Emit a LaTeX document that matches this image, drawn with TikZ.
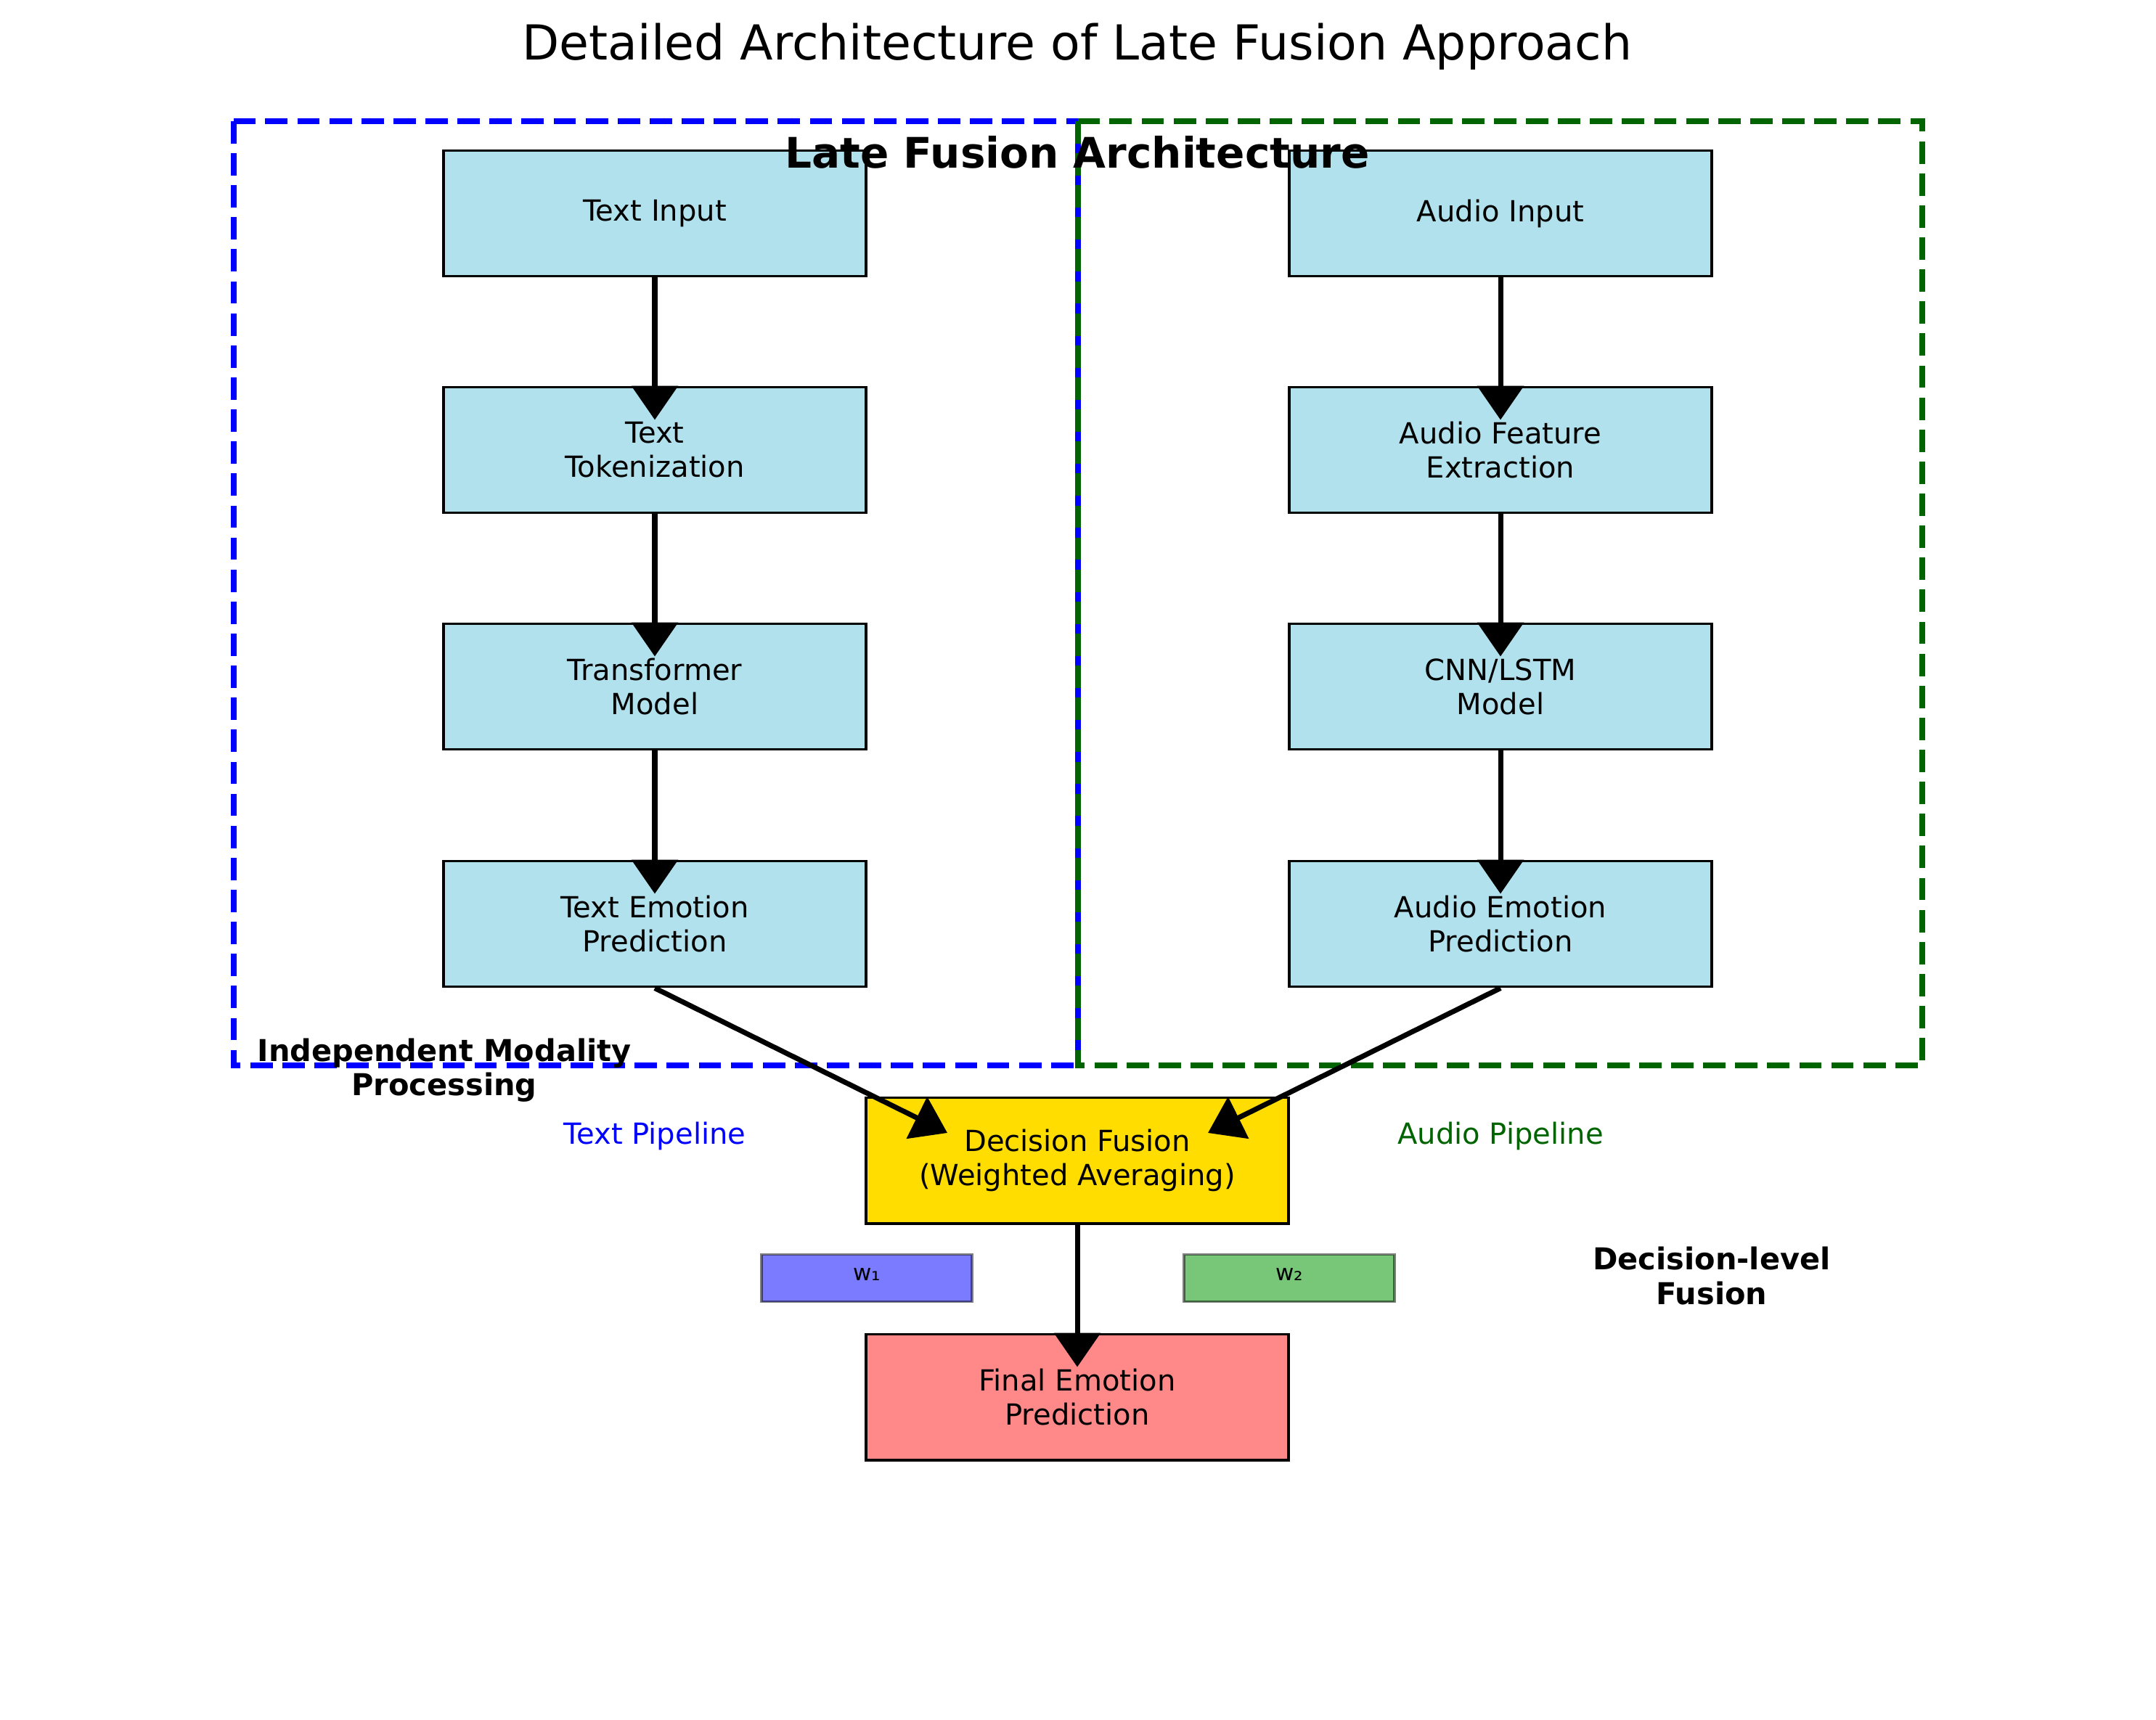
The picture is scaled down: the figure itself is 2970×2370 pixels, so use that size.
\documentclass[tikz,border=0pt]{standalone}
\usepackage{fontspec}
\setmainfont{DejaVu Sans}
\usetikzlibrary{arrows.meta}
\definecolor{boxblue}{HTML}{B2E1EE}
\definecolor{fusegold}{HTML}{FFDD00}
\definecolor{finalred}{HTML}{FF8888}
\definecolor{wone}{HTML}{7B7BFF}
\definecolor{wtwo}{HTML}{78C678}
\definecolor{dgreen}{HTML}{006400}
\begin{document}
\begin{tikzpicture}[x=0.01cm,y=-0.01cm,
  box/.style={draw=black, line width=1.1pt, minimum width=5.815cm, minimum height=1.73cm, inner sep=0pt, align=center, font=\fontsize{11.4}{13.4}\selectfont},
  flow/.style={line width=2pt, -{Triangle[length=0.47cm,width=0.63cm]}},
  wbox/.style={draw=black, draw opacity=0.5, line width=1.1pt, minimum width=2.9cm, minimum height=0.65cm, inner sep=0pt, font=\fontsize{8.8}{10}\selectfont},
  lbl/.style={align=center, inner sep=0pt, font=\fontsize{11.4}{13.4}\selectfont},
  blbl/.style={align=center, inner sep=0pt, font=\bfseries\fontsize{11.8}{13.4}\selectfont},
  frame/.style={line width=2.2pt, dash pattern=on 0.308cm off 0.133cm}
]
\useasboundingbox (0,0) rectangle (2970,2370);
\draw[frame, blue] (322,167) rectangle (1485,1468);
\draw[frame, dgreen] (1485,167) rectangle (2648,1468);

\node[box, fill=boxblue] (ti) at (902,294) {Text Input};
\node[box, fill=boxblue] (tt) at (902,620) {Text\\Tokenization};
\node[box, fill=boxblue] (tm) at (902,946) {Transformer\\Model};
\node[box, fill=boxblue] (te) at (902,1273) {Text Emotion\\Prediction};
\node[box, fill=boxblue] (ai) at (2067,294) {Audio Input};
\node[box, fill=boxblue] (af) at (2067,620) {Audio Feature\\Extraction};
\node[box, fill=boxblue] (am) at (2067,946) {CNN/LSTM\\Model};
\node[box, fill=boxblue] (ae) at (2067,1273) {Audio Emotion\\Prediction};
\node[box, fill=fusegold] (df) at (1484,1599) {Decision Fusion\\(Weighted Averaging)};
\node[box, fill=finalred] (fp) at (1484,1925) {Final Emotion\\Prediction};

\node[wbox, fill=wone] (w1) at (1194,1761) {\raisebox{0.6ex}{w₁}};
\node[wbox, fill=wtwo] (w2) at (1776,1761) {\raisebox{0.6ex}{w₂}};

\draw[flow] (ti.south) -- ([yshift=-0.47cm]tt.north);
\draw[flow] (tt.south) -- ([yshift=-0.47cm]tm.north);
\draw[flow] (tm.south) -- ([yshift=-0.47cm]te.north);
\draw[flow] (ai.south) -- ([yshift=-0.47cm]af.north);
\draw[flow] (af.south) -- ([yshift=-0.47cm]am.north);
\draw[flow] (am.south) -- ([yshift=-0.47cm]ae.north);
\coordinate (ltip) at (1305,1561);
\coordinate (rtip) at (1664,1561);
\draw[flow] (te.south) -- (ltip);
\draw[flow] (ae.south) -- (rtip);
\draw[flow] (df.south) -- ([yshift=-0.47cm]fp.north);

\node[lbl, text=blue] (tpl) at (902,1565) {Text Pipeline};
\node[lbl, text=dgreen] (apl) at (2067,1565) {Audio Pipeline};
\node[blbl] (imp) at (612,1475) {Independent Modality\\Processing};
\node[blbl] (dlf) at (2358,1758) {Decision-level\\Fusion};
\node[inner sep=0pt, font=\bfseries\fontsize{16.5}{20}\selectfont] (lfa) at (1484,210) {Late Fusion Architecture};
\node[inner sep=0pt, font=\fontsize{18.9}{22}\selectfont] (title) at (1484,64) {Detailed Architecture of Late Fusion Approach};
\end{tikzpicture}
\end{document}
